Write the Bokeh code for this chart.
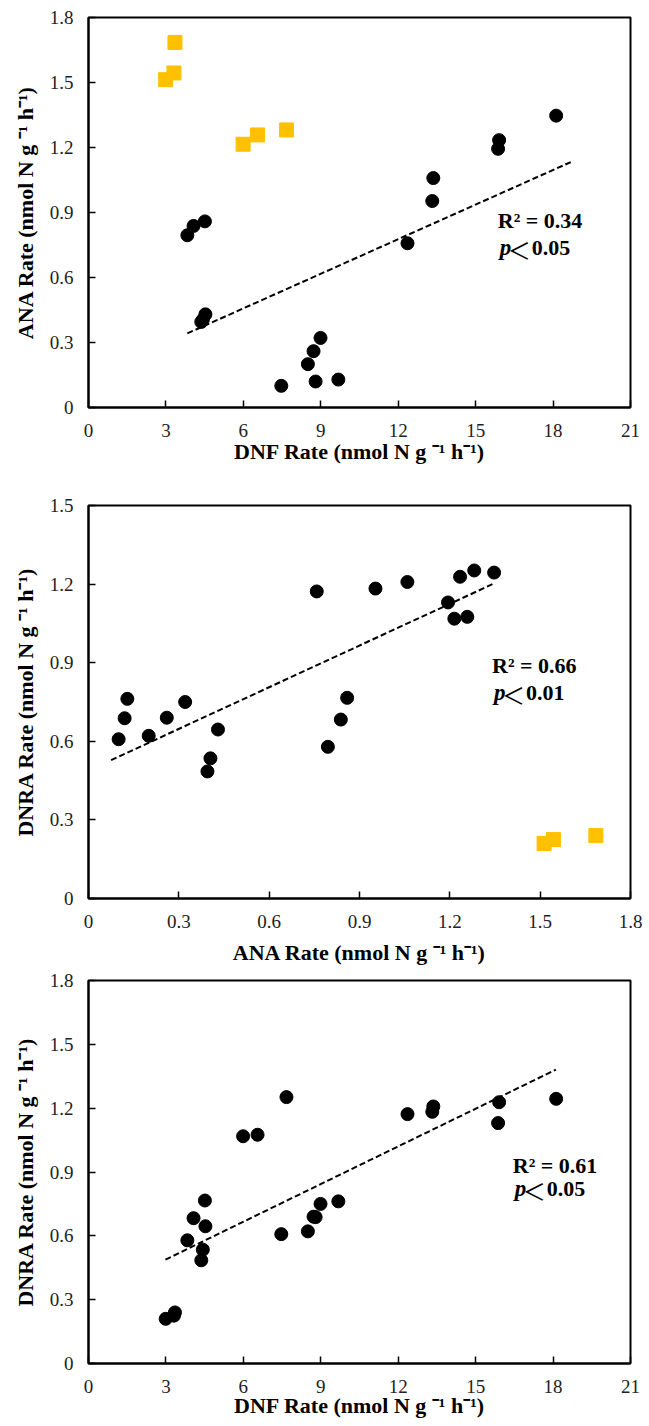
from bokeh.plotting import figure
from bokeh.layouts import column
from bokeh.models import Range1d, FixedTicker
from bokeh.core.properties import value
from bokeh.embed import file_html
from bokeh.resources import INLINE

# ---- data (24 samples) ----
dnf = [2.99, 3.31, 3.35, 5.99, 6.55, 7.67,
       3.83, 4.07, 4.51, 4.43, 4.37, 4.53, 7.47, 8.50, 8.72, 8.80, 8.99, 9.68,
       12.36, 13.32, 13.36, 15.87, 15.91, 18.12]
ana = [1.513, 1.544, 1.685, 1.215, 1.258, 1.281,
       0.795, 0.838, 0.859, 0.405, 0.395, 0.430, 0.100, 0.200, 0.260, 0.120, 0.321, 0.129,
       0.758, 0.953, 1.059, 1.194, 1.234, 1.347]
dnra = [0.210, 0.225, 0.240, 1.068, 1.075, 1.252,
        0.579, 0.683, 0.766, 0.535, 0.485, 0.645, 0.608, 0.621, 0.690, 0.688, 0.750, 0.762,
        1.172, 1.183, 1.208, 1.130, 1.228, 1.244]
group = ["A"] * 3 + ["B"] * 3 + ["C"] * 18

# trend lines
trend1_x = [3.83, 18.73]
trend1_y = [0.342, 1.135]
trend2_x = [0.075, 1.344]
trend2_y = [0.528, 1.201]
trend3_x = [2.98, 18.11]
trend3_y = [0.488, 1.381]

stats_r2 = ["R² = 0.34", "R² = 0.66", "R² = 0.61"]
stats_p = ["0.05", "0.01", "0.05"]

dnf_ticks = [0, 3, 6, 9, 12, 15, 18, 21]
dnf_tick_labels = ["0", "3", "6", "9", "12", "15", "18", "21"]
rate18_ticks = [0, 0.3, 0.6, 0.9, 1.2, 1.5, 1.8]
rate18_labels = ["0", "0.3", "0.6", "0.9", "1.2", "1.5", "1.8"]
rate15_ticks = [0, 0.3, 0.6, 0.9, 1.2, 1.5]
rate15_labels = ["0", "0.3", "0.6", "0.9", "1.2", "1.5"]

DNF_LABEL = "DNF Rate (nmol N g ⁻¹ h⁻¹)"
ANA_LABEL = "ANA Rate (nmol N g ⁻¹ h⁻¹)"
DNRA_LABEL = "DNRA Rate (nmol N g ⁻¹ h⁻¹)"

SERIF = "Liberation Serif"
YELLOW = "#FFC000"


def make_panel(xs, ys, groups, yellow_groups, xr, yr, xt, xl, yt, yl,
               xlabel, ylabel, tx, ty, r2, pv, ann_x, ann_y_r2, ann_y_p,
               width, height, bl, bt, bb, br, xlab_standoff):
    p = figure(width=width, height=height, output_backend="svg",
               toolbar_location=None, x_range=Range1d(*xr), y_range=Range1d(*yr),
               min_border_left=bl, min_border_top=bt, min_border_bottom=bb,
               min_border_right=br)
    p.grid.visible = False
    p.outline_line_color = "black"
    p.outline_line_width = 2
    p.background_fill_color = "white"
    p.border_fill_color = "white"

    for ax, ticks, labels in ((p.xaxis[0], xt, xl), (p.yaxis[0], yt, yl)):
        ax.ticker = FixedTicker(ticks=ticks)
        ax.major_label_overrides = {t: s for t, s in zip(ticks, labels)}
        ax.axis_line_color = "black"
        ax.axis_line_width = 2
        ax.major_tick_in = 7
        ax.major_tick_out = 0
        ax.major_tick_line_width = 1.5
        ax.major_tick_line_color = "black"
        ax.minor_tick_line_color = None
        ax.major_label_text_font = SERIF
        ax.major_label_text_font_size = "19px"
        ax.major_label_text_color = "#222222"
        ax.axis_label_text_font = SERIF
        ax.axis_label_text_font_style = "bold"
        ax.axis_label_text_font_size = "22px"
        ax.axis_label_text_color = "black"
    p.xaxis.major_label_standoff = 16
    p.yaxis.major_label_standoff = 15
    p.xaxis.axis_label_standoff = xlab_standoff
    p.yaxis.axis_label_standoff = 9
    p.xaxis.axis_label = xlabel
    p.yaxis.axis_label = ylabel

    p.line(tx, ty, line_color="black", line_width=2, line_dash="6 3")

    bx = [x for x, g in zip(xs, groups) if g not in yellow_groups]
    by = [y for y, g in zip(ys, groups) if g not in yellow_groups]
    yx = [x for x, g in zip(xs, groups) if g in yellow_groups]
    yy = [y for y, g in zip(ys, groups) if g in yellow_groups]
    p.scatter(bx, by, marker="circle", size=13, fill_color="black", line_color="black")
    if yx:
        p.scatter(yx, yy, marker="square", size=14, fill_color=YELLOW, line_color=YELLOW)

    p.text(x=[ann_x], y=[ann_y_r2], text=[r2], text_font=value(SERIF),
           text_font_style="bold", text_font_size="22px", text_color="black",
           text_align="left", text_baseline="alphabetic")
    p.text(x=[ann_x], y=[ann_y_p], text=["p"], text_font=value(SERIF),
           text_font_style="bold italic", text_font_size="23px", text_color="black",
           text_align="left", text_baseline="alphabetic", x_offset=2)
    p.text(x=[ann_x], y=[ann_y_p], text=["＜"], text_font=value("Noto Sans CJK SC"),
           text_font_style="normal", text_font_size="23px", text_color="black",
           text_align="left", text_baseline="alphabetic", x_offset=10, y_offset=1)
    p.text(x=[ann_x], y=[ann_y_p], text=[pv], text_font=value(SERIF),
           text_font_style="bold", text_font_size="22px", text_color="black",
           text_align="left", text_baseline="alphabetic", x_offset=34)
    return p


p1 = make_panel(dnf, ana, group, ("A", "B"), (0, 21), (0, 1.8),
                dnf_ticks, dnf_tick_labels, rate18_ticks, rate18_labels,
                DNF_LABEL, ANA_LABEL, trend1_x, trend1_y, stats_r2[0], stats_p[0],
                15.86, 0.863, 0.738,
                649, 480, 87, 17, 73, 19, -1)
p2 = make_panel(ana, dnra, group, ("A",), (0, 1.8), (0, 1.5),
                rate18_ticks, rate18_labels, rate15_ticks, rate15_labels,
                ANA_LABEL, DNRA_LABEL, trend2_x, trend2_y, stats_r2[1], stats_p[1],
                1.340, 0.889, 0.786,
                649, 488, 88, 25, 70, 15, 9)
p3 = make_panel(dnf, dnra, group, (), (0, 21), (0, 1.8),
                dnf_ticks, dnf_tick_labels, rate18_ticks, rate18_labels,
                DNF_LABEL, DNRA_LABEL, trend3_x, trend3_y, stats_r2[2], stats_p[2],
                16.44, 0.931, 0.822,
                649, 455, 84, 12, 60, 12, -3)

layout = column(p1, p2, p3, spacing=0)
open("out.html", "w").write(file_html(layout, INLINE))
